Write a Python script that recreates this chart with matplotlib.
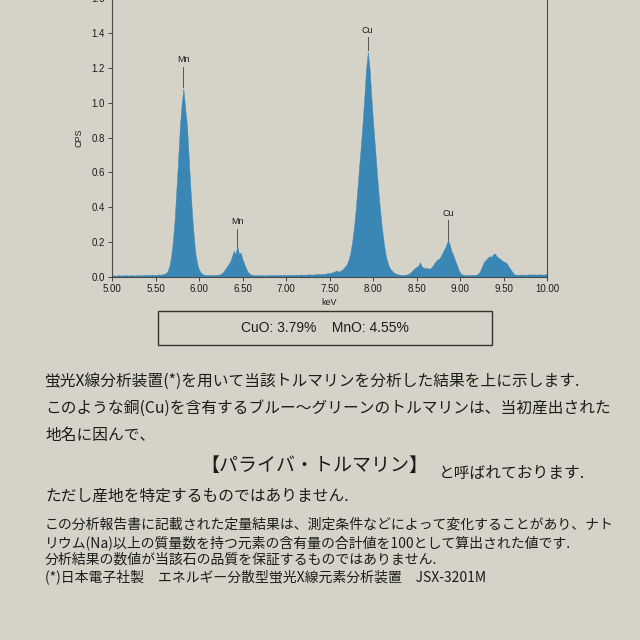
import numpy as np
import matplotlib
matplotlib.use("Agg")
import matplotlib.pyplot as plt
from matplotlib.patches import Rectangle

plt.rcParams['font.family'] = ['Liberation Sans', 'DejaVu Sans']

# spectrum: counts per second, one value every 0.02 keV from 5.00 to 10.00
cps = [
    0.008, 0.010, 0.007, 0.009, 0.011, 0.008, 0.010, 0.009, 0.012, 0.008,  # 5.00
    0.010, 0.009, 0.011, 0.008, 0.010, 0.012, 0.009, 0.011, 0.010, 0.013,  # 5.20
    0.011, 0.010, 0.012, 0.014, 0.011, 0.013, 0.012, 0.015, 0.013, 0.016,  # 5.40
    0.018, 0.022, 0.035, 0.065, 0.120, 0.210, 0.330, 0.500, 0.670, 0.860,  # 5.60
    0.990, 1.080, 0.970, 0.880, 0.700, 0.520, 0.360, 0.230, 0.130, 0.075,  # 5.80
    0.042, 0.026, 0.017, 0.013, 0.012, 0.010, 0.011, 0.012, 0.010, 0.011,  # 6.00
    0.012, 0.013, 0.015, 0.020, 0.030, 0.045, 0.060, 0.075, 0.090, 0.120,  # 6.20
    0.150, 0.130, 0.180, 0.130, 0.140, 0.100, 0.075, 0.050, 0.030, 0.020,  # 6.40
    0.014, 0.012, 0.010, 0.011, 0.009, 0.010, 0.012, 0.010, 0.009, 0.011,  # 6.60
    0.010, 0.012, 0.011, 0.009, 0.012, 0.010, 0.011, 0.013, 0.010, 0.012,  # 6.80
    0.011, 0.013, 0.012, 0.010, 0.013, 0.012, 0.014, 0.011, 0.013, 0.015,  # 7.00
    0.012, 0.014, 0.013, 0.016, 0.014, 0.013, 0.016, 0.015, 0.018, 0.016,  # 7.20
    0.017, 0.019, 0.018, 0.020, 0.022, 0.021, 0.025, 0.028, 0.032, 0.038,  # 7.40
    0.030, 0.035, 0.040, 0.050, 0.060, 0.075, 0.100, 0.140, 0.200, 0.280,  # 7.60
    0.380, 0.500, 0.630, 0.750, 0.880, 1.030, 1.190, 1.290, 1.200, 1.040,  # 7.80
    0.890, 0.760, 0.630, 0.500, 0.390, 0.290, 0.210, 0.140, 0.095, 0.065,  # 8.00
    0.045, 0.035, 0.025, 0.020, 0.016, 0.014, 0.012, 0.013, 0.011, 0.014,  # 8.20
    0.016, 0.022, 0.030, 0.042, 0.050, 0.058, 0.065, 0.085, 0.060, 0.055,  # 8.40
    0.050, 0.052, 0.048, 0.050, 0.060, 0.075, 0.090, 0.100, 0.105, 0.120,  # 8.60
    0.140, 0.160, 0.180, 0.210, 0.190, 0.150, 0.130, 0.100, 0.075, 0.045,  # 8.80
    0.025, 0.016, 0.012, 0.010, 0.012, 0.011, 0.010, 0.012, 0.011, 0.013,  # 9.00
    0.016, 0.025, 0.045, 0.070, 0.090, 0.100, 0.110, 0.120, 0.115, 0.130,  # 9.20
    0.135, 0.120, 0.110, 0.105, 0.095, 0.090, 0.085, 0.077, 0.060, 0.045,  # 9.40
    0.030, 0.018, 0.012, 0.014, 0.012, 0.015, 0.013, 0.014, 0.012, 0.015,  # 9.60
    0.013, 0.016, 0.014, 0.015, 0.013, 0.016, 0.014, 0.015, 0.013, 0.016,  # 9.80
    0.015,                                                                 # 10.00
]
kev = np.linspace(5.0, 10.0, len(cps))

peak_names = ['Mn', 'Mn', 'Cu', 'Cu']
peak_kev = [5.82, 6.44, 7.94, 8.86]
peak_top = [1.09, 0.18, 1.30, 0.21]
label_at = [1.22, 0.29, 1.39, 0.34]

result_text = 'CuO: 3.79%    MnO: 4.55%'

paragraph = [
    '蛍光X線分析装置(*)を用いて当該トルマリンを分析した結果を上に示します.',
    'このような銅(Cu)を含有するブルー～グリーンのトルマリンは、当初産出された',
    '地名に因んで、',
]
name_line = '【パライバ・トルマリン】'
name_tail = 'と呼ばれております.'
caution = 'ただし産地を特定するものではありません.'
notes = [
    'この分析報告書に記載された定量結果は、測定条件などによって変化することがあり、ナト',
    'リウム(Na)以上の質量数を持つ元素の含有量の合計値を100として算出された値です.',
    '分析結果の数値が当該石の品質を保証するものではありません.',
    '(*)日本電子社製　エネルギー分散型蛍光X線元素分析装置　JSX-3201M',
]

paper = '#d5d2c7'
ink = '#1c1c1c'
jp = ['Noto Sans CJK JP', 'DejaVu Sans']

fig = plt.figure(figsize=(6.4, 6.4), dpi=100, facecolor=paper)

def fy(py):
    return 1 - py / 640

ax = fig.add_axes([112 / 640, fy(277), 435 / 640, 279 / 640])
ax.set_facecolor('none')
ax.fill_between(kev, cps, 0, color='#3a86b4', lw=0.3, edgecolor='#3a86b4')
ax.set_xlim(5, 10)
ax.set_ylim(0, 1.6)
ax.set_xticks(np.arange(5, 10.01, 0.5))
ax.set_yticks(np.arange(0, 1.61, 0.2))
ax.xaxis.set_major_formatter('{x:.2f}')
ax.yaxis.set_major_formatter('{x:.1f}')
ax.tick_params(labelsize=7, length=3, width=0.7, color='#444444', labelcolor=ink, pad=2)
for s in ax.spines.values():
    s.set_color('#4a4a4a')
    s.set_linewidth(0.8)
ax.set_xlabel('keV', fontsize=6.5, color=ink, labelpad=3)
ax.set_ylabel('CPS', fontsize=6.5, color=ink, labelpad=6)

for name, x, top, lab in zip(peak_names, peak_kev, peak_top, label_at):
    ax.plot([x, x], [top, lab - 0.015], color='#555555', lw=0.7)
    ax.text(x, lab, name, fontsize=6.5, ha='center', va='bottom', color=ink)

# result box
fig.add_artist(Rectangle((158 / 640, fy(345)), 334 / 640, 34 / 640,
                         transform=fig.transFigure, fill=False,
                         edgecolor='#333333', lw=1.0))
fig.text(325 / 640, fy(328), result_text, fontsize=10, ha='center', va='center', color=ink)

# text below
def put(s, px, py, size, **kw):
    return fig.text(px / 640, fy(py), s, fontsize=size, family=jp,
                    va='center', color=ink, **kw)

body = [put(line, 45, py, 11, ha='left') for line, py in zip(paragraph, [381, 408, 435])]
name_t = put(name_line, 200, 465, 13, ha='left')
tail_t = put(name_tail, 600, 473, 11, ha='right')
caution_t = put(caution, 45, 496, 11, ha='left')
note_t = [put(line, 45, py, 10, ha='left') for line, py in zip(notes, [525, 543, 560, 577])]

# size the text so the line widths match the page
fig.canvas.draw()
r = fig.canvas.get_renderer()
def width(t):
    return t.get_window_extent(r).width

k = (608 - 45) / width(body[1])
for t in body + [tail_t, caution_t]:
    t.set_fontsize(t.get_fontsize() * k)
name_t.set_fontsize(name_t.get_fontsize() * (228 / width(name_t)))
k = (614 - 45) / width(note_t[0])
for t in note_t:
    t.set_fontsize(t.get_fontsize() * k)

# the tail of the name line ends just past the first line
fig.canvas.draw()
tail_t.set_x((body[0].get_window_extent(r).x1 + 5) / 640)

fig.savefig('out.png', dpi=100, facecolor=paper)
